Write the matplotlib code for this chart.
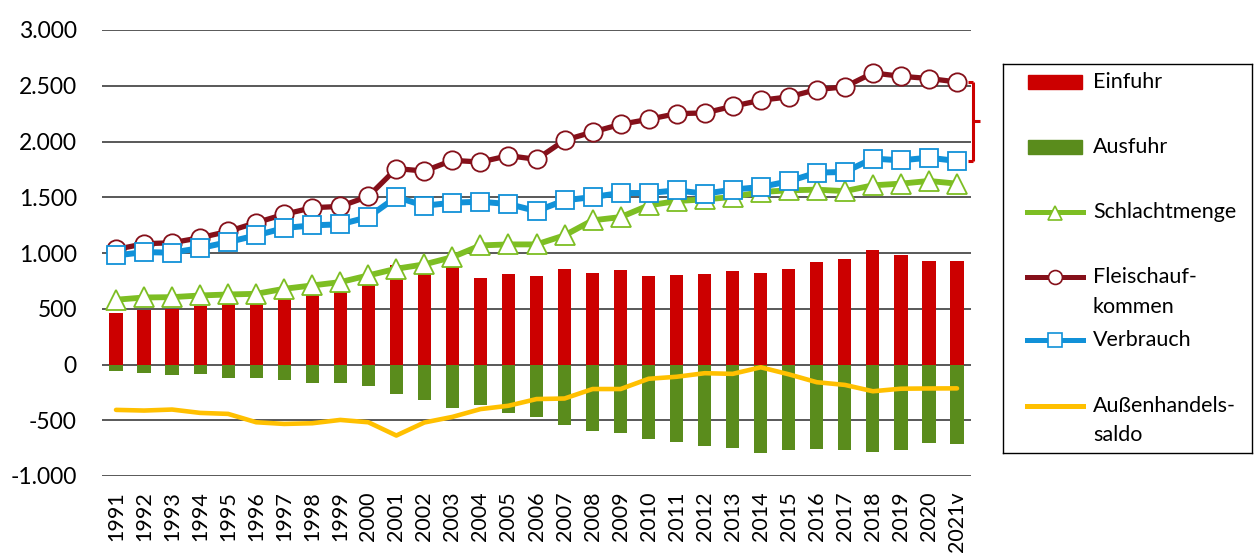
import numpy as np
import matplotlib
matplotlib.use("Agg")
import matplotlib.pyplot as plt
from matplotlib.ticker import FuncFormatter
from matplotlib.patches import Rectangle
from matplotlib.lines import Line2D
import matplotlib.transforms as mtransforms

plt.rcParams['font.family'] = ['Lato', 'DejaVu Sans']

years = [str(y) for y in range(1991, 2021)] + ["2021v"]

einfuhr = [464, 491, 500, 521, 545, 551, 595, 635, 664, 718, 895, 815, 874, 772, 814, 790,
           859, 823, 844, 796, 805, 808, 838, 820, 853, 916, 946, 1023, 981, 927, 927]
ausfuhr = [-54, -78, -90, -84, -120, -120, -135, -165, -168, -195, -263, -314, -389, -362, -437, -473,
           -541, -599, -613, -667, -691, -733, -748, -793, -763, -757, -763, -781, -766, -706, -712]
saldo = [-407, -413, -404, -434, -443, -518, -533, -527, -497, -518, -637, -520, -470, -400, -370, -310,
         -305, -220, -220, -128, -110, -78, -84, -25, -88, -159, -183, -240, -217, -215, -214]
schlachtmenge = [581, 601, 604, 619, 628, 634, 679, 709, 739, 799, 859, 898, 963, 1068, 1077, 1077,
                 1158, 1293, 1322, 1427, 1466, 1481, 1502, 1547, 1562, 1568, 1555, 1607, 1622, 1646, 1622]
fleischaufkommen = [1032, 1083, 1092, 1137, 1194, 1272, 1347, 1406, 1418, 1508, 1757, 1735, 1831, 1816, 1873, 1840,
                    2011, 2085, 2154, 2199, 2250, 2256, 2316, 2370, 2400, 2466, 2490, 2615, 2585, 2565, 2534]
verbrauch = [978, 1008, 1003, 1044, 1098, 1158, 1224, 1248, 1257, 1322, 1502, 1424, 1451, 1460, 1439, 1376,
             1472, 1502, 1538, 1538, 1562, 1532, 1568, 1592, 1643, 1721, 1727, 1847, 1831, 1855, 1825]

c_ein = '#CC0000'
c_aus = '#5A8C1C'
c_schl = '#7DBE23'
c_fl = '#85101A'
c_ver = '#1191D8'
c_saldo = '#FFC000'

W, H = 1254, 554
fig = plt.figure(figsize=(W / 100, H / 100), dpi=100)
ax = fig.add_axes([102 / W, 1 - 476 / H, 869 / W, 446 / H])

x = np.arange(len(years))
ax.bar(x, einfuhr, width=0.47, color=c_ein, zorder=2)
ax.bar(x, ausfuhr, width=0.47, color=c_aus, zorder=2)
ax.plot(x, saldo, color=c_saldo, lw=3.3, zorder=3, solid_capstyle='round')
ax.plot(x, schlachtmenge, color=c_schl, lw=4.2, marker='^', ms=14, mfc='white',
        mec=c_schl, mew=1.3, zorder=4)
ax.plot(x, fleischaufkommen, color=c_fl, lw=3.8, marker='o', ms=13.2, mfc='white',
        mec=c_fl, mew=1.3, zorder=5)
ax.plot(x, verbrauch, color=c_ver, lw=4.3, marker='s', ms=13.6, mfc='white',
        mec=c_ver, mew=1.3, zorder=6)

ax.set_xlim(-0.5, len(years) - 0.5)
ax.set_ylim(-1000, 3000)
ax.set_yticks(np.arange(-1000, 3001, 500))
ax.yaxis.set_major_formatter(FuncFormatter(lambda v, p: f"{v:,.0f}".replace(",", ".")))
ax.set_xticks(x)
ax.set_xticklabels(years, rotation=90)
ax.tick_params(axis='y', length=0, pad=18, labelsize=16.5)
ax.tick_params(axis='x', length=0, pad=11, labelsize=15.5)
ax.grid(axis='y', color='#2b2b2b', lw=1.1, zorder=0)
ax.set_axisbelow(True)
for s in ax.spines.values():
    s.set_visible(False)

# bracket between Fleischaufkommen and Verbrauch (2021)
tr = mtransforms.blended_transform_factory(ax.transAxes, ax.transData)
top, bot = fleischaufkommen[-1], verbrauch[-1]
xb = 1.0023
for xs, ys in [([0.997, xb], [top, top]), ([0.997, xb], [bot, bot]),
               ([xb, xb], [top, bot]), ([xb, 1.0105], [(top + bot) / 2] * 2)]:
    ax.add_line(Line2D(xs, ys, transform=tr, color=c_ein, lw=2.2, clip_on=False,
                       solid_capstyle='butt', zorder=7))

# legend box drawn in reference pixel coordinates
lg = fig.add_axes([1003 / W, 1 - 453 / H, 249 / W, 389 / H])
lg.set_xlim(1003, 1252)
lg.set_ylim(453, 64)
lg.set_xticks([])
lg.set_yticks([])
for s in lg.spines.values():
    s.set_color('black')
    s.set_linewidth(1.0)

lg.add_patch(Rectangle((1028, 75), 54, 14, color=c_ein))
lg.add_patch(Rectangle((1028, 140), 54, 14, color=c_aus))
lg.plot([1027, 1083], [212, 212], color=c_schl, lw=3.6)
lg.plot([1055], [213], marker='^', ms=10, mfc='white', mec=c_schl, mew=1.2)
lg.plot([1027, 1083], [277, 277], color=c_fl, lw=3.6)
lg.plot([1055], [277], marker='o', ms=10, mfc='white', mec=c_fl, mew=1.2)
lg.plot([1027, 1083], [340, 340], color=c_ver, lw=3.6)
lg.plot([1055], [340], marker='s', ms=10, mfc='white', mec=c_ver, mew=1.2)
lg.plot([1027, 1083], [406, 406], color=c_saldo, lw=3.6)

labels = [("Einfuhr", 82), ("Ausfuhr", 147), ("Schlachtmenge", 212), ("Fleischauf-", 277),
          ("kommen", 307), ("Verbrauch", 340), ("Außenhandels-", 406), ("saldo", 435)]
for t, yy in labels:
    lg.text(1093, yy, t, fontsize=15.5, va='center', ha='left')

fig.savefig("out.png", dpi=100)
